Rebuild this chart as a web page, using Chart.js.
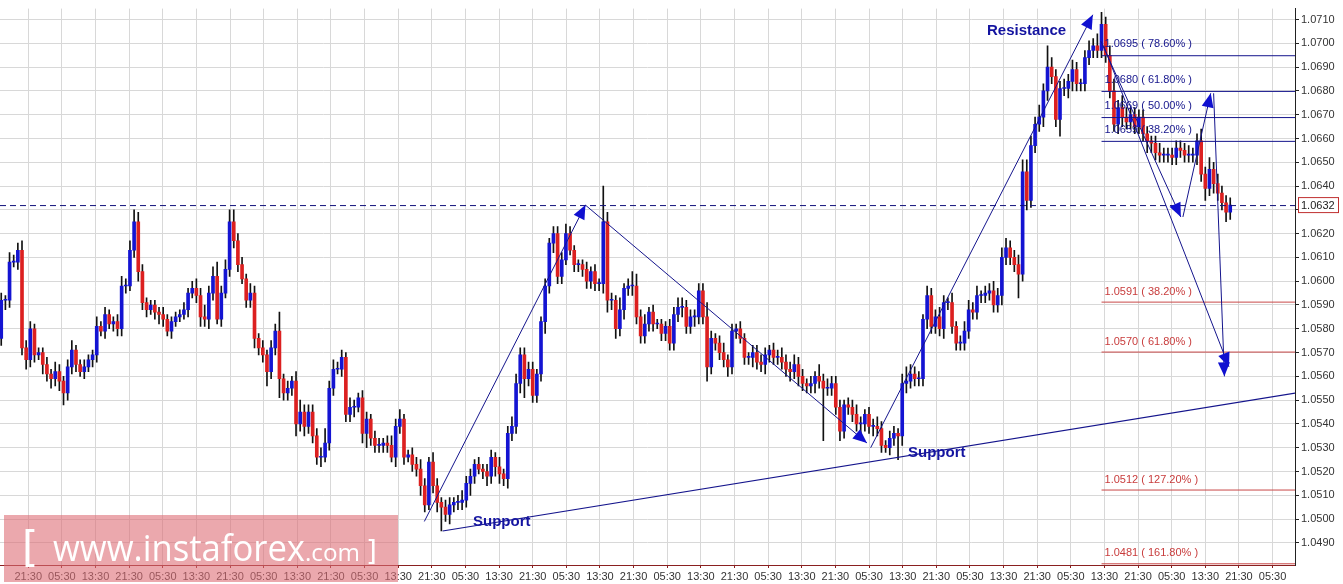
<!DOCTYPE html>
<html>
<head>
<meta charset="utf-8">
<script src="https://cdn.jsdelivr.net/npm/chart.js@4.4.1/dist/chart.umd.min.js"></script>
<style>
  html, body { margin: 0; padding: 0; background: #fff; }
  #wrap { width: 1343px; height: 584px; }
</style>
</head>
<body>
<div id="wrap"><canvas id="chart" width="1343" height="584"></canvas></div>
<script>
// prices in pips above 1.0000 (e.g. 632 = 1.0632), hourly candles
const closes = [
  592,592,608,608,613,572,567,580,569,570,
  565,561,559,562,558,553,564,571,565,562,
  564,567,569,581,579,586,582,583,580,598,
  598,613,625,604,591,588,590,587,586,584,
  579,583,585,586,588,595,597,594,585,584,
  595,602,584,595,605,625,617,607,601,592,
  595,576,572,569,562,572,579,559,553,555,
  558,540,545,539,545,535,526,526,532,555,
  563,563,568,544,547,547,551,536,542,534,
  531,531,532,531,526,539,542,526,527,523,
  521,514,506,524,514,507,505,502,506,507,
  507,508,515,518,523,521,520,518,526,522,
  519,517,536,539,557,569,559,563,552,561,
  583,598,616,620,602,609,620,613,607,607,
  605,600,604,599,599,625,592,592,580,588,
  597,598,598,585,577,582,587,582,582,578,
  581,574,586,589,589,581,585,585,596,585,
  564,576,574,570,567,564,579,580,576,568,
  568,570,566,565,569,571,568,568,566,563,
  562,565,560,557,556,557,560,558,555,555,
  557,547,537,548,547,544,540,540,544,539,
  539,538,531,530,534,536,535,557,558,561,
  559,559,584,594,581,585,580,591,591,581,
  574,574,579,588,587,594,594,595,596,590,
  594,610,614,610,607,603,646,634,657,666,
  669,680,690,686,668,681,681,684,689,683,
  683,694,697,699,697,708,695,680,666,673,
  669,667,670,665,669,662,659,658,654,653,
  653,653,652,656,655,653,653,653,659,645,
  639,647,641,637,633,629,632
];
const firstOpen = 576;
// wick length above / below the body, in pips
const upWick = [
  3,2,4,3,3,4,3,3,2,2, 2,3,2,4,3,2,3,4,2,2, 3,2,2,4,2,3,2,2,3,4,
  3,4,5,4,3,2,2,2,2,3, 2,2,2,2,3,2,3,4,3,5, 3,4,6,3,4,5,5,3,3,2,
  4,3,2,3,2,3,3,8,2,3, 2,4,5,3,3,3,3,4,6,3, 4,3,3,2,4,3,2,3,3,2,
  3,3,2,3,4,3,4,2,2,3, 3,4,3,2,4,3,2,3,3,2, 3,4,3,3,2,3,2,3,3,2,
  4,2,3,4,4,3,3,3,3,2, 2,3,2,3,3,3,4,3,2,2, 2,3,2,3,2,15,4,3,2,5,
  2,3,6,5,3,4,2,3,2,2, 2,3,3,4,4,3,3,3,3,3, 6,3,2,3,4,2,3,2,3,2,
  2,3,3,3,3,2,3,3,4,3, 3,4,3,3,2,3,2,5,3,4, 3,3,3,2,3,3,4,3,2,3,
  3,4,3,2,3,3,2,4,6,4, 3,3,2,4,3,3,4,3,2,4, 2,3,4,4,3,4,2,3,3,4,
  3,4,4,3,3,4,5,5,4,3, 5,3,9,4,3,3,4,3,4,3, 2,3,4,3,5,5,3,4,5,3,
  5,4,3,3,3,3,3,2,3,4, 3,3,3,3,3,3,4,3,3,5, 3,5,3,4,3,3,3
];
const downWick = [
  3,4,3,2,3,3,4,3,3,2, 4,3,4,3,4,5,3,3,3,2, 3,2,3,3,2,3,2,3,3,3,
  3,2,3,4,3,3,2,3,4,3, 2,3,2,2,2,3,2,3,4,3, 4,3,2,3,2,3,3,3,2,3,
  3,4,3,3,6,3,3,8,3,3, 3,5,3,4,3,3,3,4,2,3, 3,2,3,3,3,4,2,4,6,3,
  3,3,3,3,2,4,3,3,2,3, 3,4,3,2,3,4,10,3,4,3, 3,3,3,5,3,2,3,4,3,4,
  4,3,4,3,3,4,8,3,3,3, 3,5,3,4,3,3,2,2,3,3, 3,3,3,3,3,4,5,4,4,3,
  4,3,4,3,3,3,3,3,2,3, 3,3,3,3,4,3,3,4,3,3, 6,3,3,3,3,4,3,3,2,3,
  3,4,3,3,4,3,3,3,3,3, 4,3,4,3,3,3,4,3,22,3, 3,3,4,3,3,3,3,4,3,3,
  4,3,3,2,3,3,10,4,4,3, 3,3,3,4,3,3,3,4,3,3, 3,3,3,3,3,3,3,3,3,3,
  3,4,3,3,3,10,3,4,3,3, 3,4,4,3,3,7,3,4,4,3, 3,3,3,3,3,3,3,3,3,4,
  4,3,3,3,3,3,5,4,3,3, 3,3,3,3,3,3,3,3,4,3, 5,3,4,3,3,4,3
];
const timeLabels = ['21:30', '05:30', '13:30'];
const lastPrice = 632;
const navyFibs = [[695, '78.60%'], [680, '61.80%'], [669, '50.00%'], [659, '38.20%']];
const redFibs = [[591, '38.20%'], [570, '61.80%'], [512, '127.20%'], [481, '161.80%']];
// [x index, pips] pairs for the drawn wave lines
const waveLines = [
  [[101.9, 499], [140.7, 632]],
  [[140.7, 632], [208.5, 532]],
  [[209.4, 530], [262.9, 712]],
  [[264.8, 701], [284.1, 627]],
  [[284.6, 627], [291.3, 679]],
  [[292.0, 679], [294.6, 560]],
  [[265.5, 699], [295.7, 564]]
];
const supportLine = [[106.3, 495], [311.8, 553]];

const px = p => 1 + p / 10000;
const bodies = [], wicks = [], colors = [];
closes.forEach((c, i) => {
  const o = i === 0 ? firstOpen : closes[i - 1];
  const top = Math.max(o, c), bot = Math.min(o, c);
  bodies.push({ x: i, y: [px(bot), px(top)] });
  wicks.push({ x: i, y: [px(bot - downWick[i]), px(top + upWick[i])] });
  colors.push(c >= o ? '#1414d2' : '#dc2020');
});

const NAVY = '#14148c';
const FONT = '"Liberation Sans", Arial, sans-serif';

const overlay = {
  id: 'overlay',
  afterDatasetsDraw(chart) {
    const { ctx, chartArea: a, scales: { x, y } } = chart;
    const X = v => x.getPixelForValue(v), Y = p => y.getPixelForValue(px(p));
    ctx.save();
    ctx.beginPath(); ctx.rect(a.left, a.top, a.right - a.left, a.bottom - a.top); ctx.clip();

    // fib levels
    ctx.font = '11px ' + FONT;
    ctx.textBaseline = 'alphabetic';
    const fibX = X(265);
    navyFibs.forEach(([p, t]) => {
      ctx.strokeStyle = NAVY; ctx.lineWidth = 1;
      ctx.beginPath(); ctx.moveTo(fibX, Y(p) + 0.5); ctx.lineTo(a.right, Y(p) + 0.5); ctx.stroke();
      ctx.fillStyle = NAVY;
      ctx.fillText('1.0' + p + ' ( ' + t + ' )', fibX + 3, Y(p) - 8);
    });
    redFibs.forEach(([p, t]) => {
      ctx.strokeStyle = '#c84848'; ctx.lineWidth = 1;
      ctx.beginPath(); ctx.moveTo(fibX, Y(p) - 0.5); ctx.lineTo(a.right, Y(p) - 0.5); ctx.stroke();
      ctx.fillStyle = '#c83c3c';
      ctx.fillText('1.0' + p + ' ( ' + t + ' )', fibX + 3, Y(p) - 8);
    });

    // current price dashed line
    ctx.strokeStyle = '#10107a'; ctx.setLineDash([6, 4]); ctx.lineWidth = 1;
    ctx.beginPath(); ctx.moveTo(a.left, Y(lastPrice) + 0.5); ctx.lineTo(a.right, Y(lastPrice) + 0.5); ctx.stroke();
    ctx.setLineDash([]);

    // support trendline
    ctx.strokeStyle = NAVY; ctx.lineWidth = 1.2;
    ctx.beginPath();
    ctx.moveTo(X(supportLine[0][0]), Y(supportLine[0][1]));
    ctx.lineTo(X(supportLine[1][0]), Y(supportLine[1][1]));
    ctx.stroke();

    // wave arrows
    waveLines.forEach(([p0, p1]) => {
      const x0 = X(p0[0]), y0 = Y(p0[1]), x1 = X(p1[0]), y1 = Y(p1[1]);
      ctx.strokeStyle = NAVY; ctx.lineWidth = 1;
      ctx.beginPath(); ctx.moveTo(x0, y0); ctx.lineTo(x1, y1); ctx.stroke();
      const ang = Math.atan2(y1 - y0, x1 - x0), L = 14, W = 6;
      ctx.fillStyle = '#1010d0';
      ctx.beginPath();
      ctx.moveTo(x1, y1);
      ctx.lineTo(x1 - L * Math.cos(ang) + W * Math.sin(ang), y1 - L * Math.sin(ang) - W * Math.cos(ang));
      ctx.lineTo(x1 - L * Math.cos(ang) - W * Math.sin(ang), y1 - L * Math.sin(ang) + W * Math.cos(ang));
      ctx.closePath(); ctx.fill();
    });

    // annotations
    ctx.fillStyle = '#1414a0';
    ctx.font = 'bold 15px ' + FONT;
    ctx.fillText('Resistance', 987, 35);
    ctx.fillText('Support', 473, 526);
    ctx.fillText('Support', 908, 457);
    ctx.restore();

    // last price box on the axis
    ctx.save();
    const ly = Y(lastPrice);
    ctx.fillStyle = '#fff'; ctx.fillRect(1298, ly - 8, 40, 16);
    ctx.strokeStyle = '#c03030'; ctx.lineWidth = 1; ctx.strokeRect(1298.5, ly - 7.5, 40, 15);
    ctx.fillStyle = '#202020'; ctx.font = '11px ' + FONT;
    ctx.textBaseline = 'middle'; ctx.fillText('1.0632', 1301, ly + 0.5);

    // watermark
    ctx.fillStyle = 'rgba(222, 110, 118, 0.6)';
    ctx.fillRect(4, 515, 394, 67);
    ctx.fillStyle = '#ffffff';
    ctx.textBaseline = 'alphabetic';
    ctx.font = '42px "DejaVu Sans", sans-serif';
    ctx.fillText('[', 22, 562);
    ctx.font = '36px "Open Sans", "DejaVu Sans", sans-serif';
    const w1 = ctx.measureText('www.instaforex').width;
    ctx.save(); ctx.translate(53, 561); ctx.scale(252 / w1, 1);
    ctx.fillText('www.instaforex', 0, 0); ctx.restore();
    ctx.font = '24px "Open Sans", "DejaVu Sans", sans-serif';
    const w2 = ctx.measureText('.com').width;
    ctx.save(); ctx.translate(305, 561); ctx.scale(55 / w2, 1);
    ctx.fillText('.com', 0, 0); ctx.restore();
    ctx.font = '28px "DejaVu Sans", sans-serif';
    ctx.fillText(']', 366, 561);
    ctx.restore();
  }
};

new Chart(document.getElementById('chart'), {
  type: 'bar',
  data: {
    datasets: [
      { data: wicks, backgroundColor: '#111', barThickness: 1, grouped: false, order: 2 },
      { data: bodies, backgroundColor: colors, barThickness: 3, minBarLength: 1, grouped: false, order: 1 }
    ]
  },
  options: {
    responsive: false,
    animation: false,
    layout: { padding: 0 },
    plugins: { legend: { display: false }, tooltip: { enabled: false } },
    scales: {
      x: {
        type: 'linear', min: -0.3, max: 311.6, offset: false,
        afterBuildTicks(s) {
          const t = [];
          for (let k = 0; k < 38; k++) t.push({ value: 6.5 + k * 8.1 });
          s.ticks = t;
        },
        afterFit(s) { s.height = 19; },
        ticks: {
          autoSkip: false, maxRotation: 0, padding: 2,
          color: '#333', font: { size: 11, family: FONT },
          callback(v, i) { return timeLabels[i % 3]; }
        },
        grid: { color: '#d8d8d8', tickLength: 3, tickColor: '#8a2020', offset: false },
        border: { color: '#8a2020' }
      },
      y: {
        position: 'right', min: 1.04807, max: 1.07146,
        afterBuildTicks(s) {
          const t = [];
          for (let p = 490; p <= 710; p += 10) t.push({ value: px(p) });
          s.ticks = t;
        },
        afterFit(s) { s.width = 48; },
        ticks: {
          color: '#333', padding: 2,
          font: { size: 11, family: FONT },
          callback: v => v.toFixed(4)
        },
        grid: { color: '#d8d8d8', tickLength: 4, tickColor: '#222' },
        border: { color: '#222' }
      }
    }
  },
  plugins: [overlay]
});
</script>
</body>
</html>
